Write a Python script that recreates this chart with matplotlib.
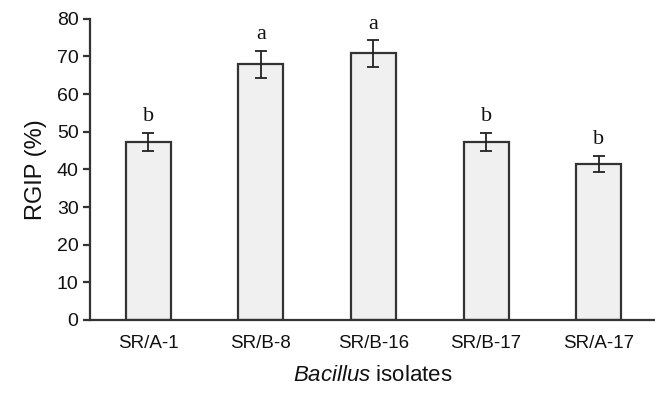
import matplotlib.pyplot as plt
import numpy as np

isolates = ['SR/A-1', 'SR/B-8', 'SR/B-16', 'SR/B-17', 'SR/A-17']
rgip = [47.2, 67.9, 70.8, 47.2, 41.4]
errors = [2.4, 3.6, 3.5, 2.4, 2.2]
letters = ['b', 'a', 'a', 'b', 'b']

plt.rcParams['mathtext.fontset'] = 'custom'
plt.rcParams['mathtext.it'] = 'Liberation Sans:italic'
plt.rcParams['mathtext.rm'] = 'Liberation Sans'

fig = plt.figure(figsize=(6.55, 3.93), dpi=100)
ax = fig.add_axes([0.137, 0.186, 0.863, 0.766])

x = np.arange(len(isolates))
ax.bar(x, rgip, width=0.4, color='#f0f0f0', edgecolor='#333333', linewidth=1.6)
ax.errorbar(x, rgip, yerr=errors, fmt='none', ecolor='#222222',
            elinewidth=1.3, capsize=4, capthick=1.3)

# letters above error bars
for xi, v, e, lab in zip(x, rgip, errors, letters):
    ax.text(xi, v + e + 1.8, lab, ha='center', va='bottom',
            fontsize=16, family='Liberation Serif', color='#111111')

ax.set_xlim(-0.52, 4.5)
ax.set_ylim(0, 80)
ax.set_yticks(range(0, 81, 10))
ax.set_xticks(x)
ax.set_xticklabels(isolates, fontsize=13.5, family='Liberation Sans', color='#111111')
for lbl in ax.get_yticklabels():
    lbl.set_fontsize(14)
    lbl.set_family('Liberation Sans')
    lbl.set_color('#111111')

ax.spines['top'].set_visible(False)
ax.spines['right'].set_visible(False)
for side in ['left', 'bottom']:
    ax.spines[side].set_color('#333333')
    ax.spines[side].set_linewidth(1.6)
ax.tick_params(axis='y', length=5, width=1.6, color='#333333', pad=3)
ax.tick_params(axis='x', length=0, pad=11)

ax.set_ylabel('RGIP (%)', fontsize=17, family='Liberation Sans', labelpad=7, color='#111111')
ax.set_xlabel(r'$\it{Bacillus}$ isolates', fontsize=16, family='Liberation Sans',
              labelpad=9, color='#111111')

plt.savefig('out.png', dpi=100)
plt.close()
